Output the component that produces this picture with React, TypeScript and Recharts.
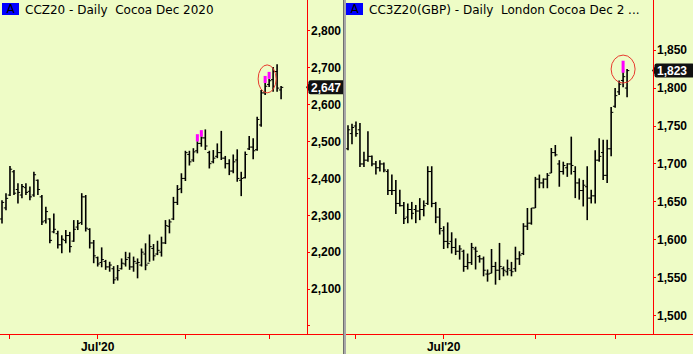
import React from 'react';
import { BarChart, Bar, XAxis, YAxis, ReferenceLine, ReferenceDot } from 'recharts';

const SLOTS = 77; // trading-day slots on each panel, last few left empty

// CCZ20 - ICE cocoa Dec 2020, daily OHLC
const ccOpen = [2290, 2320, 2355, 2418, 2370, 2355, 2375, 2365, 2355, 2395, 2350, 2285, 2290, 2255, 2250, 2220, 2232, 2245, 2230, 2268, 2280, 2350, 2262, 2225, 2185, 2172, 2175, 2160, 2155, 2130, 2155, 2168, 2185, 2160, 2170, 2165, 2195, 2170, 2210, 2195, 2200, 2225, 2270, 2290, 2335, 2372, 2400, 2465, 2450, 2475, 2495, 2510, 2470, 2445, 2460, 2470, 2455, 2440, 2420, 2450, 2395, 2402, 2480, 2485, 2478, 2545, 2632, 2655, 2668, 2690, 2640];
const ccHigh = [2341, 2360, 2434, 2423, 2387, 2385, 2387, 2378, 2418, 2397, 2355, 2323, 2292, 2305, 2258, 2246, 2260, 2255, 2287, 2287, 2360, 2355, 2265, 2233, 2188, 2213, 2179, 2174, 2162, 2165, 2183, 2201, 2199, 2188, 2183, 2210, 2224, 2248, 2222, 2231, 2242, 2287, 2289, 2350, 2382, 2414, 2475, 2475, 2482, 2520, 2531, 2533, 2475, 2477, 2495, 2529, 2461, 2452, 2465, 2479, 2418, 2473, 2515, 2509, 2567, 2640, 2678, 2689, 2702, 2710, 2651];
const ccLow = [2278, 2314, 2352, 2355, 2332, 2346, 2355, 2341, 2350, 2355, 2274, 2278, 2224, 2251, 2210, 2197, 2224, 2199, 2228, 2260, 2274, 2256, 2210, 2170, 2161, 2159, 2152, 2147, 2114, 2123, 2153, 2161, 2152, 2147, 2129, 2161, 2151, 2174, 2177, 2192, 2188, 2222, 2251, 2287, 2328, 2360, 2393, 2435, 2445, 2468, 2486, 2477, 2427, 2441, 2455, 2450, 2427, 2409, 2414, 2391, 2352, 2400, 2477, 2452, 2475, 2540, 2626, 2648, 2635, 2635, 2615];
const ccClose = [2335, 2346, 2425, 2360, 2362, 2378, 2362, 2350, 2410, 2370, 2282, 2310, 2232, 2262, 2220, 2235, 2245, 2215, 2262, 2278, 2350, 2265, 2225, 2190, 2168, 2180, 2160, 2165, 2125, 2150, 2170, 2180, 2160, 2175, 2172, 2200, 2165, 2215, 2190, 2205, 2225, 2272, 2282, 2335, 2370, 2400, 2470, 2445, 2472, 2495, 2510, 2488, 2440, 2455, 2470, 2455, 2440, 2420, 2445, 2400, 2400, 2465, 2485, 2475, 2560, 2632, 2650, 2665, 2690, 2645, 2647];
// magenta signal marks: bar index and the lower end of the mark
const ccMarkBars = [49, 50, 66, 67];
const ccMarkLows = [2500, 2513, 2659, 2670];
const ccYTicks = [2000, 2100, 2200, 2300, 2400, 2500, 2600, 2700, 2800];
const ccMonthTicks = [2, 24, 46, 67];

// CC3Z20 - London cocoa Dec 2020 (GBP), daily OHLC
const lcOpen = [1720, 1740, 1750, 1745, 1700, 1705, 1710, 1700, 1695, 1700, 1690, 1665, 1665, 1648, 1645, 1630, 1640, 1640, 1638, 1640, 1648, 1690, 1648, 1630, 1612, 1598, 1598, 1590, 1585, 1585, 1565, 1570, 1588, 1578, 1575, 1555, 1556, 1565, 1560, 1562, 1558, 1560, 1562, 1575, 1582, 1618, 1622, 1642, 1680, 1675, 1680, 1688, 1715, 1700, 1690, 1695, 1700, 1690, 1675, 1665, 1670, 1655, 1658, 1705, 1715, 1685, 1720, 1776, 1795, 1810, 1800];
const lcHigh = [1751, 1753, 1756, 1754, 1716, 1743, 1711, 1704, 1705, 1702, 1693, 1686, 1679, 1666, 1650, 1648, 1650, 1646, 1655, 1652, 1697, 1697, 1650, 1642, 1618, 1623, 1610, 1602, 1593, 1587, 1582, 1596, 1591, 1580, 1578, 1561, 1588, 1571, 1596, 1565, 1574, 1571, 1591, 1585, 1622, 1642, 1642, 1683, 1686, 1681, 1688, 1721, 1725, 1705, 1703, 1701, 1736, 1697, 1681, 1679, 1697, 1666, 1718, 1734, 1732, 1732, 1775, 1800, 1810, 1836, 1825];
const lcLow = [1718, 1726, 1736, 1696, 1696, 1703, 1697, 1686, 1690, 1689, 1659, 1659, 1634, 1644, 1621, 1622, 1627, 1622, 1626, 1631, 1646, 1643, 1622, 1607, 1588, 1589, 1582, 1580, 1574, 1558, 1561, 1567, 1561, 1570, 1552, 1545, 1556, 1541, 1547, 1552, 1553, 1552, 1558, 1567, 1580, 1613, 1620, 1642, 1668, 1668, 1668, 1688, 1710, 1670, 1686, 1683, 1686, 1655, 1653, 1644, 1626, 1648, 1648, 1703, 1679, 1675, 1710, 1774, 1791, 1801, 1788];
const lcClose = [1745, 1748, 1740, 1700, 1705, 1710, 1700, 1695, 1700, 1692, 1665, 1665, 1648, 1645, 1628, 1640, 1635, 1638, 1640, 1645, 1690, 1648, 1630, 1615, 1598, 1595, 1590, 1585, 1588, 1565, 1570, 1590, 1585, 1575, 1560, 1555, 1565, 1560, 1565, 1560, 1562, 1558, 1575, 1580, 1618, 1622, 1642, 1680, 1675, 1680, 1685, 1715, 1712, 1690, 1698, 1700, 1698, 1675, 1665, 1672, 1655, 1658, 1705, 1710, 1685, 1720, 1768, 1790, 1805, 1815, 1823];
const lcMarkBars = [69];
const lcMarkLows = [1820];
const lcYTicks = [1500, 1550, 1600, 1650, 1700, 1750, 1800, 1850];
const lcMonthTicks = [2, 24, 47, 67];

const monthLabels: Record<number, string> = { 24: "Jul'20" };

const BG = '#eefcc6';
const RED = '#ff0000';

function buildRows(o: number[], h: number[], l: number[], c: number[], markBars: number[], markLows: number[]) {
  return Array.from({ length: SLOTS }, (_, i) => {
    if (i >= h.length) return { i, range: null };
    const k = markBars.indexOf(i);
    return { i, range: [l[i], h[i]], o: o[i], h: h[i], l: l[i], c: c[i], m: k >= 0 ? markLows[k] : null };
  });
}

const OhlcBar = (props: any) => {
  const { x, y, width, height, payload } = props;
  if (!payload || payload.o == null || !height) return null;
  const { o, h, l, c, m } = payload;
  const cx = x + width / 2;
  const py = (v: number) => y + ((h - v) / (h - l)) * height;
  const top = m != null ? py(m) : py(h);
  return (
    <g>
      {m != null && <rect x={cx - 1.5} y={py(h)} width={3} height={py(m) - py(h)} fill="#ff00ff" />}
      <line x1={cx} x2={cx} y1={top} y2={py(l)} stroke="#000" strokeWidth={1.6} />
      <line x1={cx - 2.2} x2={cx} y1={py(o)} y2={py(o)} stroke="#000" strokeWidth={1} />
      <line x1={cx} x2={cx + 2.2} y1={py(c)} y2={py(c)} stroke="#000" strokeWidth={1} />
    </g>
  );
};

const PriceTag = ({ viewBox, text }: any) => {
  if (!viewBox) return null;
  const ax = viewBox.x + viewBox.width;
  const cy = viewBox.y;
  return (
    <g>
      <path d={`M${ax - 1},${cy} L${ax + 2},${cy - 4} L${ax + 2},${cy + 4} Z`} fill="#111" />
      <rect x={ax + 1.5} y={cy - 7} width={40} height={14} rx={2} fill="#111" />
      <text x={ax + 4} y={cy + 4.3} fill="#fff" fontSize={12} fontWeight="bold" fontFamily="'Liberation Sans', Arial, sans-serif">
        {text}
      </text>
    </g>
  );
};

type PanelProps = {
  rows: any[];
  width: number;
  axisWidth: number;
  domain: [number, number];
  yTicks: number[];
  hideTicks: number[];
  monthTicks: number[];
  last: number;
  circle: { x: number; y: number; dx: number; rx: number };
};

const Panel = ({ rows, width, axisWidth, domain, yTicks, hideTicks, monthTicks, last, circle }: PanelProps) => (
  <BarChart width={width} height={354} data={rows} margin={{ top: 0, right: 0, bottom: 0, left: 0 }} barCategoryGap={0}>
    <XAxis
      dataKey="i"
      ticks={monthTicks}
      interval={0}
      axisLine={false}
      tickLine={{ stroke: RED, shapeRendering: 'crispEdges' }}
      tickSize={5}
      tickMargin={3}
      height={20}
      tickFormatter={(v) => monthLabels[v] ?? ''}
      tick={{ fill: '#000', fontSize: 12, fontWeight: 'bold', fontFamily: "'Liberation Sans', Arial, sans-serif" }}
    />
    <YAxis
      orientation="right"
      width={axisWidth}
      domain={domain}
      allowDataOverflow
      ticks={yTicks}
      interval={0}
      axisLine={{ stroke: RED, shapeRendering: 'crispEdges' }}
      tickLine={{ stroke: RED, shapeRendering: 'crispEdges' }}
      tickSize={3}
      tickMargin={1}
      tickFormatter={(v) => (hideTicks.includes(v) ? '' : v.toLocaleString('en-US'))}
      tick={{ fill: '#000', fontSize: 12, fontWeight: 'bold', fontFamily: "'Liberation Sans', Arial, sans-serif" }}
    />
    <Bar dataKey="range" shape={<OhlcBar />} isAnimationActive={false} />
    <ReferenceDot
      x={circle.x}
      y={circle.y}
      r={0}
      shape={(p: any) => (
        <ellipse cx={p.cx + circle.dx} cy={p.cy} rx={circle.rx} ry={14} fill="none" stroke="#e83a2e" strokeWidth={1} />
      )}
    />
    <ReferenceLine
      y={last}
      stroke="none"
      label={(p: any) => <PriceTag viewBox={p.viewBox} text={last.toLocaleString('en-US')} />}
    />
  </BarChart>
);

const Title = ({ left, text }: { left: number; text: string }) => (
  <>
    <div
      style={{
        position: 'absolute', left, top: 3, width: 17, height: 12, background: '#0000ff', color: '#000',
        fontFamily: "'DejaVu Sans', sans-serif", fontSize: 12, lineHeight: '12px', textAlign: 'center',
      }}
    >
      A
    </div>
    <div
      style={{
        position: 'absolute', left: left + 23, top: 3, color: '#000', whiteSpace: 'pre',
        fontFamily: "'DejaVu Sans', sans-serif", fontSize: 12, lineHeight: '14px',
      }}
    >
      {text}
    </div>
  </>
);

export default function App() {
  const ccRows = buildRows(ccOpen, ccHigh, ccLow, ccClose, ccMarkBars, ccMarkLows);
  const lcRows = buildRows(lcOpen, lcHigh, lcLow, lcClose, lcMarkBars, lcMarkLows);
  return (
    <div style={{ position: 'relative', width: 693, height: 354, background: BG, overflow: 'hidden' }}>
      <style>{'body{margin:0}'}</style>
      <div style={{ position: 'absolute', left: 0, top: 0 }}>
        <Panel
          rows={ccRows}
          width={344}
          axisWidth={37}
          domain={[1978, 2884]}
          yTicks={ccYTicks}
          hideTicks={[2000]}
          monthTicks={ccMonthTicks}
          last={ccClose[ccClose.length - 1]}
          circle={{ x: 66, y: 2670, dx: 2, rx: 9 }}
        />
      </div>
      <div style={{ position: 'absolute', left: 346, top: 0 }}>
        <Panel
          rows={lcRows}
          width={347}
          axisWidth={40}
          domain={[1476, 1916]}
          yTicks={lcYTicks}
          hideTicks={[]}
          monthTicks={lcMonthTicks}
          last={lcClose[lcClose.length - 1]}
          circle={{ x: 69, y: 1825, dx: 0, rx: 12 }}
        />
      </div>
      <div style={{ position: 'absolute', left: 0, top: 334, width: 343, height: 1, background: RED }} />
      <div style={{ position: 'absolute', left: 345, top: 334, width: 348, height: 1, background: RED }} />
      <div style={{ position: 'absolute', left: 343, top: 0, width: 1, height: 354, background: '#6e6e6e' }} />
      <div style={{ position: 'absolute', left: 344, top: 0, width: 2, height: 354, background: '#a8a8a8' }} />
      <Title left={2} text="CCZ20 - Daily  Cocoa Dec 2020" />
      <Title left={346} text="CC3Z20(GBP) - Daily  London Cocoa Dec 2 ..." />
    </div>
  );
}
